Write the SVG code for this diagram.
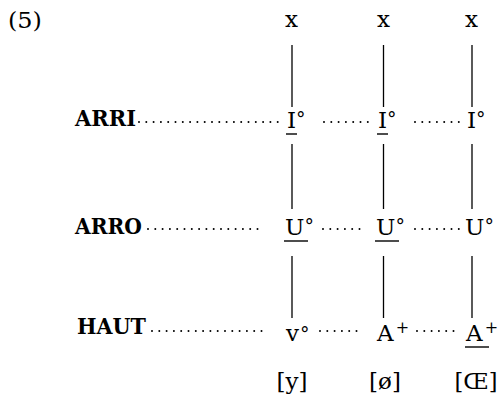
<svg xmlns="http://www.w3.org/2000/svg" width="501" height="416" viewBox="0 0 501 416">
<style>
.t{font-family:"DejaVu Serif","Liberation Serif",serif;font-size:23px;fill:#000}
.b{font-family:"DejaVu Serif","Liberation Serif",serif;font-size:22px;font-weight:bold;fill:#000}
.s{font-family:"DejaVu Serif","Liberation Serif",serif;font-size:19px;fill:#000}
.p{font-family:"DejaVu Serif","Liberation Serif",serif;font-size:16px;fill:#000}
.v{stroke:#000;stroke-width:1.3;fill:none}
.d{stroke:#000;stroke-width:2;stroke-linecap:round;stroke-dasharray:0 7.3;fill:none}
.u{stroke:#000;stroke-width:1.4;fill:none}
</style>
<rect width="501" height="416" fill="#fff"/>
<text class="t" x="8" y="28" textLength="34" lengthAdjust="spacingAndGlyphs">(5)</text>
<g id="x1"><text class="t" x="285" y="27">x</text></g>
<g id="x2"><text class="t" x="377" y="27">x</text></g>
<g id="x3"><text class="t" x="465" y="27">x</text></g>
<g id="ARRI"><text class="b" x="75" y="126" textLength="61" lengthAdjust="spacingAndGlyphs">ARRI</text></g>
<g id="ARRO"><text class="b" x="75" y="234" textLength="67" lengthAdjust="spacingAndGlyphs">ARRO</text></g>
<g id="HAUT"><text class="b" x="77" y="334" textLength="69" lengthAdjust="spacingAndGlyphs">HAUT</text></g>
<g id="I1"><text class="t" x="287" y="128">I<tspan class="s" dy="-3">°</tspan></text><line class="u" x1="286" y1="134" x2="297" y2="134"/></g>
<g id="I2"><text class="t" x="378" y="128">I<tspan class="s" dy="-3">°</tspan></text><line class="u" x1="377" y1="134" x2="388" y2="134"/></g>
<g id="I3"><text class="t" x="467" y="128">I<tspan class="s" dy="-3">°</tspan></text></g>
<g id="U1"><text class="t" x="285" y="235">U<tspan class="s" dy="-3">°</tspan></text><line class="u" x1="284" y1="241" x2="308" y2="241"/></g>
<g id="U2"><text class="t" x="376" y="235">U<tspan class="s" dy="-3">°</tspan></text><line class="u" x1="375" y1="241" x2="399" y2="241"/></g>
<g id="U3"><text class="t" x="465" y="235">U<tspan class="s" dy="-3">°</tspan></text></g>
<g id="v1"><text class="t" x="286" y="341">v<tspan class="s" dx="1" dy="-1">°</tspan></text></g>
<g id="A2"><text class="t" x="377" y="341">A<tspan class="p" dx="2" dy="-8">+</tspan></text></g>
<g id="A3"><text class="t" x="466" y="341">A<tspan class="p" dx="2" dy="-8">+</tspan></text><line class="u" x1="465" y1="347" x2="489" y2="347"/></g>
<g id="y"><text class="t" x="292" y="389" text-anchor="middle">[y]</text></g>
<g id="oe"><text class="t" x="385" y="389" text-anchor="middle">[ø]</text></g>
<g id="OE"><text class="t" x="476" y="389" text-anchor="middle" textLength="43" lengthAdjust="spacingAndGlyphs">[Œ]</text></g>
<g id="connectors">
<line class="v" x1="292" y1="45" x2="292" y2="107"/>
<line class="v" x1="383.5" y1="45" x2="383.5" y2="107"/>
<line class="v" x1="472" y1="45" x2="472" y2="107"/>
<line class="v" x1="292" y1="144" x2="292" y2="209"/>
<line class="v" x1="383.5" y1="144" x2="383.5" y2="209"/>
<line class="v" x1="472" y1="144" x2="472" y2="209"/>
<line class="v" x1="292" y1="256" x2="292" y2="318"/>
<line class="v" x1="383.5" y1="256" x2="383.5" y2="318"/>
<line class="v" x1="472" y1="256" x2="472" y2="318"/>
<line class="d" x1="139" y1="122" x2="285" y2="122"/>
<line class="d" x1="324" y1="122" x2="368" y2="122"/>
<line class="d" x1="415" y1="122" x2="459" y2="122"/>
<line class="d" x1="148" y1="229" x2="263" y2="229"/>
<line class="d" x1="323" y1="229" x2="366" y2="229"/>
<line class="d" x1="415" y1="229" x2="459" y2="229"/>
<line class="d" x1="152" y1="331" x2="262" y2="331"/>
<line class="d" x1="320" y1="331" x2="363" y2="331"/>
<line class="d" x1="417" y1="331" x2="460" y2="331"/>
</g>
</svg>
